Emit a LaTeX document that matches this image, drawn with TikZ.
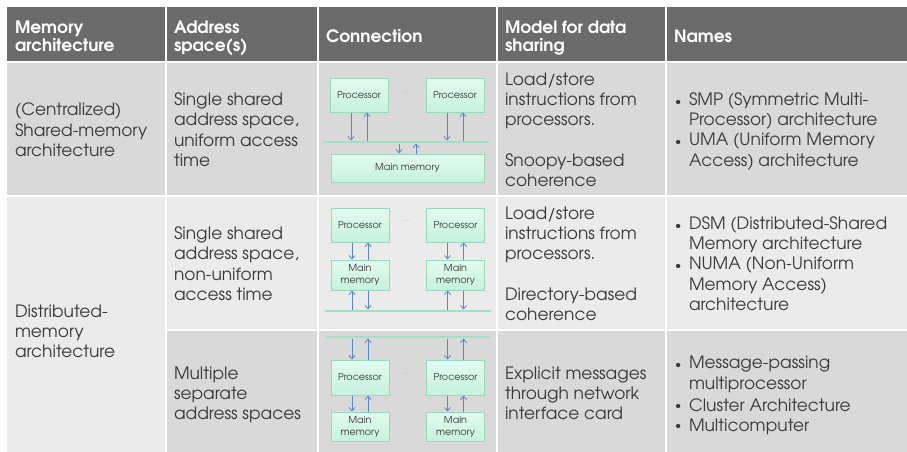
\documentclass[tikz,border=0pt]{standalone}
\usepackage{fontspec}
\setmainfont{texgyreadventor}[Extension=.otf, UprightFont=*-regular, BoldFont=*-bold, ItalicFont=*-italic, BoldItalicFont=*-bolditalic]
\usetikzlibrary{arrows.meta}

\definecolor{headgray}{HTML}{6B6B6B}
\definecolor{rowdark}{HTML}{D9D9D9}
\definecolor{rowlight}{HTML}{EBEBEB}
\definecolor{ink}{HTML}{3A3A3A}
\definecolor{boxline}{HTML}{9DD7BD}
\definecolor{boxtop}{HTML}{E2FBF0}
\definecolor{boxbot}{HTML}{C6F1DE}
\definecolor{busgreen}{HTML}{A3DFC4}
\definecolor{arrowblue}{HTML}{5A87C8}

\tikzset{
  txt/.style={inner sep=0pt, outer sep=0pt, align=left, anchor=north west,
    text=ink, font=\fontsize{17}{20.3}\selectfont, execute at begin node=\strut},
  hd/.style={inner sep=0pt, outer sep=0pt, align=left, anchor=north west,
    text=white, font=\fontsize{17}{18}\selectfont\bfseries, execute at begin node=\strut},
  hdone/.style={inner sep=0pt, outer sep=0pt, anchor=base west,
    text=white, font=\fontsize{17}{18}\selectfont\bfseries},
  bul/.style={inner sep=0pt, outer sep=0pt, anchor=base west,
    text=ink, font=\fontsize{12}{14}\selectfont},
  unit/.style={rectangle, draw=boxline, line width=1pt, top color=boxtop,
    bottom color=boxbot, inner sep=0pt, text=ink, align=center,
    font=\fontsize{9.6}{12}\selectfont},
  bus/.style={rectangle, fill=busgreen, draw=none, inner sep=0pt,
    minimum height=2.6pt, minimum width=166pt},
  dots/.style={inner sep=0pt, text=black!30, font=\fontsize{8}{8}\selectfont},
  arr/.style={draw=arrowblue, line width=0.8pt,
    -{Straight Barb[length=3.5pt,width=6pt]}},
  sep/.style={draw=white, line width=2pt}
}

\begin{document}
\begin{tikzpicture}[x=1pt,y=-1pt]
\useasboundingbox (0,0) rectangle (907,452);
\fill[white] (0,0) rectangle (907,452);

% table bands
\fill[headgray] (7,7) rectangle (907,62);
\fill[rowdark] (7,62) rectangle (907,196);
\fill[rowlight] (7,196) rectangle (907,330);
\fill[rowlight] (7,330) rectangle (166,452);
\fill[rowdark] (166,330) rectangle (907,452);

% white cell separators
\draw[sep] (7,62) -- (907,62);
\draw[sep] (7,196) -- (907,196);
\draw[sep] (166,330) -- (907,330);
\draw[sep] (166,7) -- (166,452);
\draw[sep] (318,7) -- (318,452);
\draw[sep] (497,7) -- (497,452);
\draw[sep] (666,7) -- (666,452);

% header row
\node[hd] (h1) at (15,21.4) {Memory\\architecture};
\node[hd] (h2) at (174,21.4) {Address\\space(s)};
\node[hdone] (h3) at (326,43) {Connection};
\node[hd] (h4) at (505,21.4) {Model for data\\sharing};
\node[hdone] (h5) at (674,43) {Names};

% row 1: centralized shared memory
\node[txt] (a1) at (15,103) {(Centralized)\\Shared-memory\\architecture};
\node[txt] (s1) at (174,92.8) {Single shared\\address space,\\uniform access\\time};
\node[txt] (m1a) at (505,72.5) {Load/store\\instructions from\\processors.};
\node[txt] (m1b) at (505,153.7) {Snoopy-based\\coherence};
\node[bul] (b11) at (675,105.3) {•};
\node[txt] (n11) at (689,92.8) {SMP (Symmetric Multi-\\Processor) architecture};
\node[bul] (b12) at (675,145.9) {•};
\node[txt] (n12) at (689,133.4) {UMA (Uniform Memory\\Access) architecture};

% row 2: distributed shared memory
\node[txt] (a2) at (15,304.8) {Distributed-\\memory\\architecture};
\node[txt] (s2) at (174,226.8) {Single shared\\address space,\\non-uniform\\access time};
\node[txt] (m2a) at (505,206.5) {Load/store\\instructions from\\processors.};
\node[txt] (m2b) at (505,287.7) {Directory-based\\coherence};
\node[bul] (b21) at (675,229.2) {•};
\node[txt] (n21) at (689,216.7) {DSM (Distributed-Shared\\Memory architecture};
\node[bul] (b22) at (675,269.8) {•};
\node[txt] (n22) at (689,257.3) {NUMA (Non-Uniform\\Memory Access)\\architecture};

% row 3: message passing
\node[txt] (s3) at (174,366.5) {Multiple\\separate\\address spaces};
\node[txt] (m3) at (505,366.5) {Explicit messages\\through network\\interface card};
\node[bul] (b31) at (675,368.8) {•};
\node[txt] (n31) at (689,356.3) {Message-passing\\multiprocessor};
\node[bul] (b32) at (675,409.4) {•};
\node[txt] (n32) at (689,396.9) {Cluster Architecture};
\node[bul] (b33) at (675,429.7) {•};
\node[txt] (n33) at (689,417.2) {Multicomputer};

% connection 1: processors on a bus to one main memory
\node[unit, minimum width=58pt, minimum height=34pt] (p1a) at (359,95) {Processor};
\node[unit, minimum width=58pt, minimum height=34pt] (p1b) at (455,95) {Processor};
\node[dots] (d1) at (407,92) {...};
\node[bus] (bus1) at (406,142) {};
\node[unit, minimum width=153pt, minimum height=28pt] (mm1) at (407.5,168) {Main memory};
\draw[arr] ([xshift=-8pt]p1a.south) -- ([xshift=-8pt]p1a.south |- bus1.north);
\draw[arr] ([xshift=8pt]p1a.south |- bus1.north) -- ([xshift=8pt]p1a.south);
\draw[arr] ([xshift=-8pt]p1b.south) -- ([xshift=-8pt]p1b.south |- bus1.north);
\draw[arr] ([xshift=8pt]p1b.south |- bus1.north) -- ([xshift=8pt]p1b.south);
\draw[arr] ([xshift=-8.5pt]mm1.north |- bus1.south) -- ([xshift=-8.5pt]mm1.north);
\draw[arr] ([xshift=8.5pt]mm1.north) -- ([xshift=8.5pt]mm1.north |- bus1.south);

% connection 2: processors with local memories on a shared interconnect
\node[unit, minimum width=58pt, minimum height=34pt] (p2a) at (360,225) {Processor};
\node[unit, minimum width=58pt, minimum height=34pt] (p2b) at (455.5,225) {Processor};
\node[dots] (d2) at (407,221) {...};
\node[unit, minimum width=58pt, minimum height=30pt] (mm2a) at (360,275) {Main\\memory};
\node[unit, minimum width=58pt, minimum height=30pt] (mm2b) at (455.5,275) {Main\\memory};
\node[bus] (bus2) at (408,311) {};
\draw[arr] ([xshift=-8pt]p2a.south) -- ([xshift=-8pt]mm2a.north);
\draw[arr] ([xshift=8pt]mm2a.north) -- ([xshift=8pt]p2a.south);
\draw[arr] ([xshift=-8pt]p2b.south) -- ([xshift=-8pt]mm2b.north);
\draw[arr] ([xshift=8pt]mm2b.north) -- ([xshift=8pt]p2b.south);
\draw[arr] ([xshift=-8pt]mm2a.south |- bus2.north) -- ([xshift=-8pt]mm2a.south);
\draw[arr] ([xshift=8pt]mm2a.south) -- ([xshift=8pt]mm2a.south |- bus2.north);
\draw[arr] ([xshift=-8pt]mm2b.south |- bus2.north) -- ([xshift=-8pt]mm2b.south);
\draw[arr] ([xshift=8pt]mm2b.south) -- ([xshift=8pt]mm2b.south |- bus2.north);

% connection 3: separate nodes joined by a network
\node[bus] (bus3) at (408,337) {};
\node[unit, minimum width=58pt, minimum height=35pt] (p3a) at (360,377.5) {Processor};
\node[unit, minimum width=58pt, minimum height=35pt] (p3b) at (455.5,377.5) {Processor};
\node[dots] (d3) at (407,374) {...};
\node[unit, minimum width=58pt, minimum height=29pt] (mm3a) at (360,426.5) {Main\\memory};
\node[unit, minimum width=58pt, minimum height=29pt] (mm3b) at (455.5,426.5) {Main\\memory};
\draw[arr] ([xshift=-8pt]p3a.north |- bus3.south) -- ([xshift=-8pt]p3a.north);
\draw[arr] ([xshift=8pt]p3a.north) -- ([xshift=8pt]p3a.north |- bus3.south);
\draw[arr] ([xshift=-8pt]p3b.north |- bus3.south) -- ([xshift=-8pt]p3b.north);
\draw[arr] ([xshift=8pt]p3b.north) -- ([xshift=8pt]p3b.north |- bus3.south);
\draw[arr] ([xshift=-8pt]p3a.south) -- ([xshift=-8pt]mm3a.north);
\draw[arr] ([xshift=8pt]mm3a.north) -- ([xshift=8pt]p3a.south);
\draw[arr] ([xshift=-8pt]p3b.south) -- ([xshift=-8pt]mm3b.north);
\draw[arr] ([xshift=8pt]mm3b.north) -- ([xshift=8pt]p3b.south);
\end{tikzpicture}
\end{document}
